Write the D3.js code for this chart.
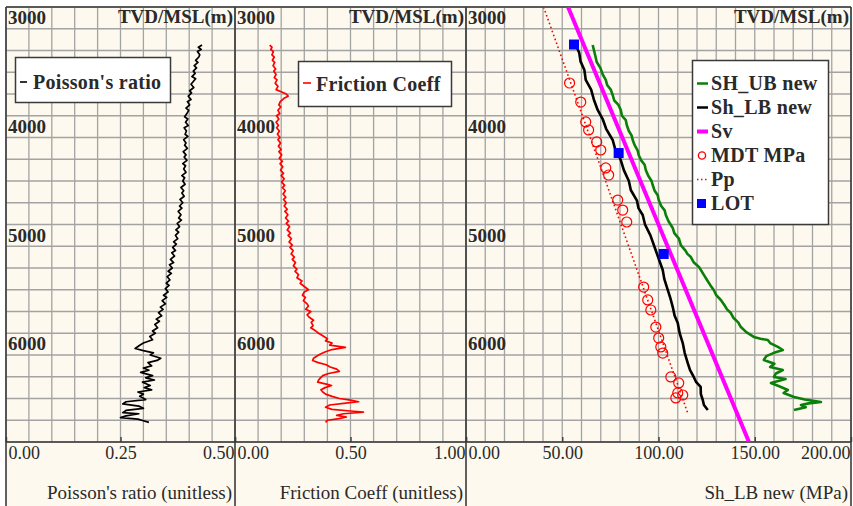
<!DOCTYPE html>
<html>
<head>
<meta charset="utf-8">
<script src="https://cdn.jsdelivr.net/npm/d3@7"></script>
<style>
  html, body { margin: 0; padding: 0; background: #ffffff; }
  svg { display: block; font-family: "Liberation Serif", "Times New Roman", serif; }
</style>
</head>
<body>
<svg id="chart" width="853" height="506"></svg>
<script>
// ---- Data: [depth TVD/MSL (m), value] ----
const poisson = [
  [3350,.428],[3370,.420],[3390,.426],[3410,.418],[3440,.423],[3460,.421],[3490,.414],[3510,.419],[3540,.411],
  [3560,.416],[3590,.409],[3610,.413],[3640,.406],[3660,.414],[3690,.408],[3710,.404],[3740,.410],[3770,.401],
  [3790,.405],[3820,.398],[3850,.404],[3870,.396],[3900,.401],[3930,.393],[3950,.399],[3980,.395],[4010,.390],
  [4030,.397],[4060,.392],[4090,.398],[4110,.389],[4140,.394],[4170,.391],[4190,.397],[4220,.388],[4250,.393],
  [4270,.390],[4300,.396],[4330,.387],[4360,.393],[4380,.389],[4410,.395],[4440,.386],[4460,.392],[4490,.388],
  [4520,.393],[4550,.384],[4570,.390],[4600,.386],[4630,.391],[4660,.382],[4690,.388],[4710,.384],[4740,.389],
  [4770,.380],[4800,.386],[4830,.379],[4850,.384],[4880,.376],[4910,.382],[4940,.377],[4960,.383],[4990,.374],
  [5020,.379],[5050,.371],[5070,.377],[5100,.370],[5130,.375],[5160,.366],[5180,.372],[5210,.364],[5240,.370],
  [5260,.362],[5290,.368],[5320,.359],[5350,.366],[5370,.357],[5400,.363],[5430,.354],[5450,.361],[5480,.352],
  [5510,.358],[5540,.350],[5560,.356],[5590,.348],[5620,.354],[5650,.344],[5670,.351],[5700,.341],[5730,.348],
  [5760,.337],[5780,.343],[5810,.333],[5840,.340],[5870,.328],[5890,.335],[5920,.325],[5950,.331],[5980,.320],
  [6000,.326],[6030,.314],[6060,.320],[6090,.300],[6110,.292],[6140,.282],[6160,.300],[6180,.322],[6200,.315],
  [6230,.338],[6250,.330],[6270,.310],[6300,.318],[6320,.300],[6340,.312],[6360,.294],[6390,.320],[6410,.305],
  [6430,.324],[6450,.298],[6480,.315],[6500,.302],[6520,.318],[6540,.288],[6560,.300],[6580,.292],[6610,.305],
  [6630,.262],[6650,.255],[6670,.290],[6690,.300],[6710,.262],[6730,.255],[6740,.290],[6760,.262],[6775,.250],
  [6790,.288],[6805,.300],[6820,.312]
];

const friction = [
  [3350,.150],[3370,.160],[3390,.155],[3410,.166],[3440,.160],[3460,.170],[3490,.162],[3510,.172],[3540,.165],
  [3570,.176],[3590,.168],[3620,.178],[3650,.170],[3670,.182],[3700,.174],[3730,.186],[3760,.178],[3780,.200],
  [3800,.222],[3820,.230],[3840,.212],[3870,.196],[3900,.190],[3920,.198],[3950,.186],[3980,.194],[4000,.180],
  [4030,.190],[4060,.178],[4090,.188],[4110,.180],[4140,.192],[4170,.184],[4200,.195],[4220,.186],[4250,.197],
  [4280,.188],[4310,.200],[4330,.190],[4360,.202],[4390,.192],[4420,.205],[4440,.195],[4470,.207],[4500,.197],
  [4530,.210],[4550,.200],[4580,.213],[4610,.202],[4640,.215],[4660,.205],[4690,.218],[4720,.208],[4750,.220],
  [4770,.210],[4800,.222],[4830,.213],[4860,.226],[4880,.216],[4910,.229],[4940,.219],[4970,.232],[4990,.222],
  [5020,.236],[5050,.226],[5080,.240],[5100,.230],[5130,.244],[5160,.234],[5190,.248],[5210,.238],[5240,.252],
  [5270,.243],[5300,.257],[5320,.248],[5350,.262],[5380,.253],[5410,.268],[5430,.260],[5460,.275],[5490,.268],
  [5520,.290],[5540,.282],[5570,.300],[5600,.318],[5620,.300],[5650,.292],[5670,.305],[5700,.296],[5730,.312],
  [5750,.318],[5780,.306],[5800,.328],[5830,.312],[5850,.320],[5880,.340],[5900,.330],[5930,.338],[5950,.328],
  [5980,.350],[6000,.362],[6030,.385],[6050,.400],[6070,.392],[6090,.420],[6110,.410],[6130,.478],[6150,.420],
  [6170,.392],[6190,.370],[6210,.355],[6230,.340],[6250,.336],[6270,.360],[6290,.395],[6310,.412],[6330,.440],
  [6350,.452],[6370,.405],[6390,.380],[6410,.370],[6430,.362],[6450,.358],[6470,.400],[6480,.418],[6500,.390],
  [6520,.372],[6540,.380],[6560,.392],[6580,.420],[6600,.452],[6615,.500],[6630,.535],[6645,.470],[6660,.410],
  [6680,.392],[6700,.420],[6715,.500],[6725,.556],[6740,.470],[6755,.440],[6770,.482],[6785,.450],[6800,.400],
  [6820,.392]
];

const shUB = [
  [3349,65.8],[3400,66.5],[3450,67.2],[3506,67.9],[3560,69.8],[3620,71.0],[3671,72.6],[3720,73.4],
  [3760,75.2],[3809,76.2],[3860,77.0],[3900,79.2],[3947,80.4],[4000,81.0],[4040,83.0],[4085,83.5],
  [4140,84.6],[4180,86.0],[4223,86.6],[4270,87.6],[4320,89.2],[4361,89.7],[4410,91.0],[4450,92.8],
  [4499,93.4],[4550,94.6],[4600,96.4],[4637,97.0],[4690,98.0],[4730,99.6],[4775,100.1],[4830,101.4],
  [4870,103.2],[4913,103.8],[4970,105.2],[5032,107.4],[5080,108.2],[5130,110.6],[5189,111.6],[5240,114.0],
  [5270,115.0],[5299,116.8],[5350,118.4],[5390,121.0],[5418,122.0],[5470,123.8],[5510,125.2],[5560,127.0],
  [5602,128.7],[5650,130.0],[5694,132.4],[5740,134.2],[5780,135.6],[5814,137.6],[5860,139.0],[5900,141.4],
  [5943,142.8],[5990,145.6],[6034,149.5],[6050,153.0],[6062,156.8],[6090,158.0],[6126,162.0],[6154,164.6],
  [6180,160.0],[6210,156.0],[6246,154.7],[6280,160.2],[6310,158.0],[6338,164.6],[6370,161.0],[6402,160.0],
  [6420,166.0],[6457,158.4],[6490,163.0],[6522,167.2],[6550,165.0],[6586,170.4],[6610,176.0],[6632,184.4],
  [6645,178.0],[6660,174.0],[6680,176.5],[6706,170.4]
];

const shLB = [
  [3349,57.0],[3420,58.8],[3500,59.5],[3580,61.5],[3671,62.2],[3760,65.0],[3850,66.4],[3947,68.4],
  [4030,71.0],[4120,72.8],[4223,76.2],[4300,77.4],[4407,80.4],[4500,82.0],[4600,84.6],[4683,85.6],
  [4780,88.8],[4850,89.6],[4913,91.8],[5000,93.0],[5100,95.8],[5234,98.5],[5320,100.2],[5418,102.2],
  [5500,103.0],[5602,104.8],[5680,106.2],[5759,107.4],[5840,108.4],[5906,110.0],[6000,111.0],[6090,112.6],
  [6180,113.6],[6274,115.2],[6340,116.4],[6402,118.3],[6450,119.6],[6494,121.9],[6560,122.0],[6614,123.0],
  [6660,123.6],[6706,125.6]
];

const sv = [[3000,53.0],[4000,76.5],[5000,100.0],[6000,123.5],[7000,147.0]];

const pp = [[3000,40.3],[4000,60.5],[5000,80.5],[6000,100.5],[6750,115.5]];

const mdt = [
  [3699,53.8],[3874,59.6],[4057,62.2],[4131,63.7],[4241,67.9],[4315,70.0],[4480,72.6],[4545,74.1],
  [4775,78.8],[4867,81.4],[4977,83.5],[5575,92.3],[5694,94.4],[5786,96.0],[5943,98.6],[6044,100.1],
  [6126,101.2],[6182,102.2],[6402,106.4],[6457,110.5],[6549,110.0],[6568,112.6],[6595,109.0]
];

const lot = [[3345,56.1],[4343,79.3],[5271,102.7]];

// ---- Axis labels ----
const depthLabels = [3000, 4000, 5000, 6000];
const poissonTicks = [0, 0.25, 0.5];
const frictionTicks = [0, 0.5, 1.0];
const stressTicks = [0, 50, 100, 150, 200];

const stressLegend = [
  { name: "SH_UB new", kind: "line", color: "#0a7f0a", width: 2.5 },
  { name: "Sh_LB new", kind: "line", color: "#000000", width: 2.5 },
  { name: "Sv", kind: "line", color: "#ff00ff", width: 4 },
  { name: "MDT MPa", kind: "circle", color: "#ff0000" },
  { name: "Pp", kind: "dots", color: "#ff0000" },
  { name: "LOT", kind: "square", color: "#0000ff" }
];

// ---- Layout ----
const svg = d3.select("#chart");
const TOP = 7, PLOT_BOTTOM = 442, BOTTOM = 506;
const BG = "#fdf9ee", GRID = "#a3a3a3", FRAME = "#3a3a3a", TEXT = "#2a2a2a";

const y = d3.scaleLinear().domain([3000, 7000]).range([TOP, PLOT_BOTTOM]);

const panels = [
  { x0: 6,   x1: 235, domain: [0, 0.5], gridCount: 10, ticks: poissonTicks, title: "Poisson's ratio (unitless)" },
  { x0: 235, x1: 466, domain: [0, 1],   gridCount: 10, ticks: frictionTicks, title: "Friction Coeff (unitless)" },
  { x0: 466, x1: 851, domain: [0, 200], gridCount: 20, ticks: stressTicks, title: "Sh_LB new (MPa)" }
];
panels.forEach(p => { p.x = d3.scaleLinear().domain(p.domain).range([p.x0, p.x1]); });

// background
svg.append("rect").attr("x", 6).attr("y", TOP).attr("width", 851 - 6).attr("height", BOTTOM - TOP).attr("fill", BG);

const defs = svg.append("defs");
panels.forEach((p, i) => {
  defs.append("clipPath").attr("id", "clip" + i)
    .append("rect").attr("x", p.x0).attr("y", TOP).attr("width", p.x1 - p.x0).attr("height", PLOT_BOTTOM - TOP);
});

// grid
panels.forEach(p => {
  const g = svg.append("g").attr("stroke", GRID).attr("stroke-width", 1.3);
  g.selectAll("line.v").data(p.x.ticks(p.gridCount)).join("line")
    .attr("x1", d => p.x(d)).attr("x2", d => p.x(d)).attr("y1", TOP).attr("y2", PLOT_BOTTOM);
  g.selectAll("line.h").data(y.ticks(20)).join("line")
    .attr("x1", p.x0).attr("x2", p.x1).attr("y1", d => y(d)).attr("y2", d => y(d));
});

// frame
const frame = svg.append("g").attr("stroke", FRAME).attr("stroke-width", 1.6).attr("fill", "none");
frame.append("line").attr("x1", 6).attr("x2", 851).attr("y1", TOP).attr("y2", TOP);
frame.append("line").attr("x1", 6).attr("x2", 851).attr("y1", PLOT_BOTTOM).attr("y2", PLOT_BOTTOM);
[6, 235, 466, 851].forEach(xv =>
  frame.append("line").attr("x1", xv).attr("x2", xv).attr("y1", TOP).attr("y2", BOTTOM));

// curves
const lineOf = (p) => d3.line().x(d => p.x(d[1])).y(d => y(d[0]));

const g1 = svg.append("g").attr("clip-path", "url(#clip0)");
g1.append("path").datum(poisson).attr("d", lineOf(panels[0]))
  .attr("fill", "none").attr("stroke", "#000").attr("stroke-width", 1.7).attr("stroke-linejoin", "round");

const g2 = svg.append("g").attr("clip-path", "url(#clip1)");
g2.append("path").datum(friction).attr("d", lineOf(panels[1]))
  .attr("fill", "none").attr("stroke", "#ff0000").attr("stroke-width", 1.7).attr("stroke-linejoin", "round");

const p3 = panels[2];
const g3 = svg.append("g").attr("clip-path", "url(#clip2)");
g3.append("path").datum(pp).attr("d", lineOf(p3))
  .attr("fill", "none").attr("stroke", "#ff0000").attr("stroke-width", 1.6).attr("stroke-dasharray", "1.6,2.6");
g3.selectAll("circle.mdt").data(mdt).join("circle")
  .attr("cx", d => p3.x(d[1])).attr("cy", d => y(d[0])).attr("r", 5)
  .attr("fill", "none").attr("stroke", "#ff0000").attr("stroke-width", 1.2);
g3.append("path").datum(shUB).attr("d", lineOf(p3))
  .attr("fill", "none").attr("stroke", "#0a7f0a").attr("stroke-width", 2.6).attr("stroke-linejoin", "round");
g3.append("path").datum(shLB).attr("d", lineOf(p3))
  .attr("fill", "none").attr("stroke", "#000").attr("stroke-width", 2.6).attr("stroke-linejoin", "round");
g3.append("path").datum(sv).attr("d", lineOf(p3))
  .attr("fill", "none").attr("stroke", "#ff00ff").attr("stroke-width", 4);
g3.selectAll("rect.lot").data(lot).join("rect")
  .attr("x", d => p3.x(d[1]) - 5).attr("y", d => y(d[0]) - 5).attr("width", 10).attr("height", 10)
  .attr("fill", "#0000ff");

// bottom axes
panels.forEach(p => {
  const ax = svg.append("g").attr("transform", `translate(0,${PLOT_BOTTOM})`)
    .call(d3.axisBottom(p.x).tickValues(p.ticks).tickSizeInner(-5).tickSizeOuter(0).tickPadding(4.5)
      .tickFormat(d3.format(".2f")));
  ax.select(".domain").remove();
  ax.selectAll(".tick line").attr("stroke", FRAME).attr("stroke-width", 1.4);
  ax.selectAll(".tick text")
    .attr("font-family", "Liberation Serif, serif").attr("font-size", 18).attr("fill", TEXT)
    .attr("text-anchor", (d, i) => i === 0 ? "start" : (i === p.ticks.length - 1 ? "end" : "middle"))
    .attr("dx", (d, i) => i === 0 ? 2 : (i === p.ticks.length - 1 ? -1 : 0));
  svg.append("text").attr("x", p.x1 - 3).attr("y", 499).attr("text-anchor", "end")
    .attr("font-size", 19).attr("fill", TEXT).text(p.title);
});

// depth labels and header in each panel
panels.forEach(p => {
  const ax = svg.append("g").attr("transform", `translate(${p.x0},0)`)
    .call(d3.axisRight(y).tickValues(depthLabels).tickSize(0).tickPadding(2).tickFormat(d3.format("d")));
  ax.select(".domain").remove();
  ax.selectAll(".tick text")
    .attr("font-family", "Liberation Serif, serif").attr("font-size", 19).attr("font-weight", "bold")
    .attr("fill", TEXT).attr("dy", null).attr("y", 16.5);
  svg.append("text").attr("x", p.x1 - 2).attr("y", 23).attr("text-anchor", "end")
    .attr("font-size", 19).attr("font-weight", "bold").attr("fill", TEXT).text("TVD/MSL(m)");
});

// legends
function legendBox(x, yb, w, h) {
  svg.append("rect").attr("x", x).attr("y", yb).attr("width", w).attr("height", h)
    .attr("fill", "#ffffff").attr("stroke", FRAME).attr("stroke-width", 1.5);
}
legendBox(15.5, 57.5, 155, 45);
svg.append("line").attr("x1", 20).attr("x2", 27).attr("y1", 82).attr("y2", 82).attr("stroke", "#000").attr("stroke-width", 1.6);
svg.append("text").attr("x", 33).attr("y", 89).attr("font-size", 20).attr("font-weight", "bold")
  .attr("letter-spacing", 0.3).attr("fill", TEXT).text("Poisson's ratio");

legendBox(298.5, 61.5, 153, 45);
svg.append("line").attr("x1", 303).attr("x2", 311).attr("y1", 83).attr("y2", 83).attr("stroke", "#ff0000").attr("stroke-width", 1.6);
svg.append("text").attr("x", 316).attr("y", 91).attr("font-size", 20).attr("font-weight", "bold")
  .attr("letter-spacing", 0.3).attr("fill", TEXT).text("Friction Coeff");

legendBox(692.5, 60.5, 136, 164);
const leg = svg.append("g").selectAll("g").data(stressLegend).join("g")
  .attr("transform", (d, i) => `translate(697,${83.5 + i * 24})`);
leg.each(function (d) {
  const g = d3.select(this);
  if (d.kind === "line") {
    g.append("line").attr("x1", 0).attr("x2", 11).attr("y1", 0).attr("y2", 0)
      .attr("stroke", d.color).attr("stroke-width", d.width);
  } else if (d.kind === "circle") {
    g.append("circle").attr("cx", 5).attr("cy", 0).attr("r", 3.6)
      .attr("fill", "none").attr("stroke", d.color).attr("stroke-width", 1.4);
  } else if (d.kind === "dots") {
    g.append("line").attr("x1", 0).attr("x2", 11).attr("y1", 0).attr("y2", 0)
      .attr("stroke", d.color).attr("stroke-width", 1.5).attr("stroke-dasharray", "1.5,2.5");
  } else {
    g.append("rect").attr("x", 0).attr("y", -4.5).attr("width", 9).attr("height", 9).attr("fill", d.color);
  }
  g.append("text").attr("x", 14).attr("y", 6.5).attr("font-size", 20).attr("font-weight", "bold")
    .attr("letter-spacing", 0.3).attr("fill", TEXT).text(d.name);
});
</script>
</body>
</html>
